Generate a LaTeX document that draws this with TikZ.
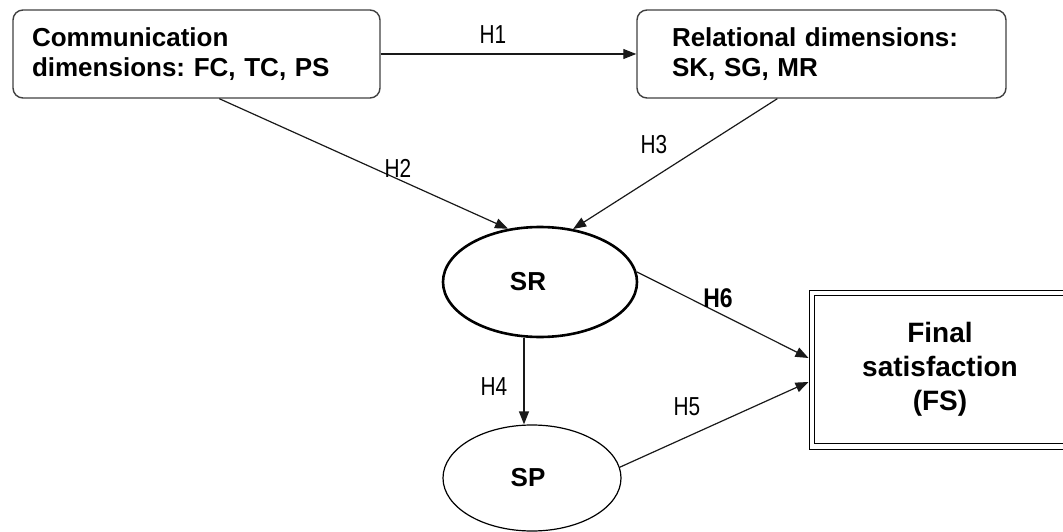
\documentclass[tikz,border=0pt]{standalone}
\usepackage{fontspec}
\setmainfont{Liberation Sans}
\usetikzlibrary{arrows.meta,calc,shapes.geometric}
\frenchspacing

\tikzset{
  dimbox/.style={draw=black!75, line width=1.4pt, rounded corners=10pt,
    minimum height=88pt, align=left,
    font=\bfseries\fontsize{26}{30}\selectfont},
  construct/.style={ellipse, draw, inner sep=0pt,
    font=\bfseries\fontsize{26}{30}\selectfont},
  outcome/.style={draw, line width=1pt, minimum width=262pt, minimum height=159pt,
    align=center, font=\bfseries\fontsize{28}{34}\selectfont},
  hyp/.style={inner sep=0pt, font=\fontsize{26}{26}\selectfont},
  link/.style={draw=black!90, line width=1.2pt,
    -{Triangle[length=13pt,width=10pt]}},
}

\begin{document}
\begin{tikzpicture}[x=1pt,y=-1pt]
  \useasboundingbox (0,0) rectangle (1063,532);
  \clip (0,0) rectangle (1063,532);

  % constructs
  \node[dimbox, minimum width=367pt, text width=329pt, inner xsep=19pt]
    (comm) at (196.5,54) {Communication\\dimensions: FC, TC, PS};
  \node[dimbox, minimum width=369pt, text width=299pt, inner xsep=35pt]
    (rel) at (821.5,54) {Relational dimensions:\\SK, SG, MR};
  \node[construct, line width=2.6pt, minimum width=194pt, minimum height=110pt]
    (sr) at (540,282) {\hspace*{-24pt}SR};
  \node[construct, line width=1.2pt, minimum width=178pt, minimum height=106pt]
    (sp) at (532,478) {\hspace*{-8pt}SP};
  \node[outcome] (fs) at (940,369.5) {Final\\satisfaction\\(FS)};
  \draw[line width=1.5pt] ($(fs.north west)+(6,6)$) rectangle ($(fs.south east)+(-6,-6)$);

  % hypothesised paths
  \coordinate (h4x) at (524,0);
  \draw[link] (comm.east) -- (rel.west);
  \draw[link] ($(comm.south west)+(207,0)$) -- (sr.121);
  \draw[link] ($(rel.south west)+(141,0)$) -- (sr.58);
  \draw[link] (sr.south -| h4x) -- (sp.north -| h4x);
  \draw[link] (sp.7) -- ($(fs.west)+(0,12.5)$);
  \draw[link] (sr.6) -- ($(fs.west)+(0,-11.5)$);

  % path labels
  \node[hyp] (l1) at (493,35) {\scalebox{0.8}[1]{H1}};
  \node[hyp] (l2) at (398,168) {\scalebox{0.8}[1]{H2}};
  \node[hyp] (l3) at (654,145) {\scalebox{0.8}[1]{H3}};
  \node[hyp] (l4) at (494,387) {\scalebox{0.8}[1]{H4}};
  \node[hyp] (l5) at (687,407) {\scalebox{0.8}[1]{H5}};
  \node[hyp, font=\bfseries\fontsize{27}{27}\selectfont] (l6) at (718,298) {\scalebox{0.85}[1]{H6}};
\end{tikzpicture}
\end{document}
